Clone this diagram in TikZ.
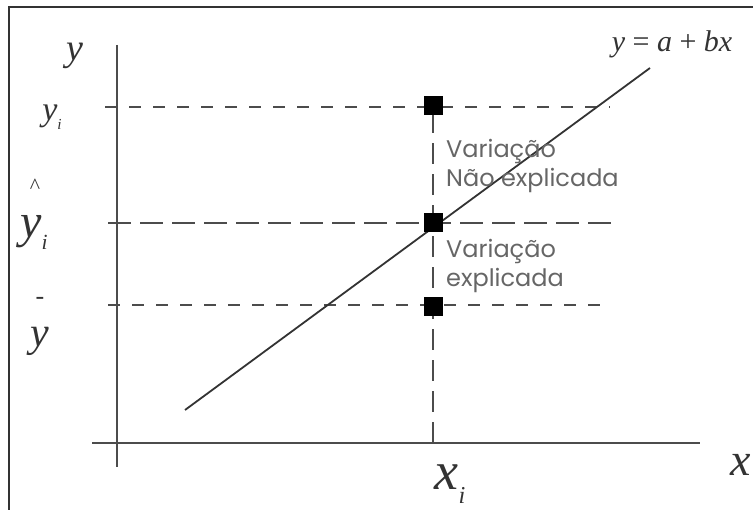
\documentclass[tikz,border=0pt]{standalone}
\usepackage{fontspec}
\newfontfamily\notefont{Poppins}
\newfontfamily\varfont{Liberation Serif}
\newcommand{\sub}[1]{\raisebox{-0.25em}{\scalebox{0.45}{#1}}}

\begin{document}
\begin{tikzpicture}[x=1pt, y=-1pt,
    axis/.style={draw=black!70, line width=2.7pt},
    guide/.style={draw=black!70, line width=2.4pt, dash pattern=on 12pt off 12pt},
    guidelong/.style={draw=black!70, line width=2.4pt, dash pattern=on 23pt off 9pt},
    guidevert/.style={draw=black!70, line width=2.4pt, dash pattern=on 21pt off 10pt},
    sqpoint/.style={rectangle, fill=black, minimum size=19pt, inner sep=0pt},
    lbl/.style={text=black!80, inner sep=0pt, align=center},
    note/.style={text=black!60, inner sep=0pt, align=left, anchor=north west,
                 font=\notefont\fontsize{24}{29}\selectfont}]
    \useasboundingbox (0,0) rectangle (753,510);

    % Frame (only top and left edges are visible)
    \draw[black!80, line width=2.7pt] (9,510) -- (9,7) -- (753,7);

    % Axes
    \coordinate (ytop) at (117,45);
    \coordinate (ybot) at (117,467);
    \coordinate (xleft) at (92,443);
    \coordinate (xright) at (700,443);
    \draw[axis] (ytop) -- (ybot);
    \draw[axis] (xleft) -- (xright);

    % Points on the vertical through x_i
    \coordinate (xi) at (433,443);
    \coordinate (yi) at (433,106);
    \coordinate (yhat) at (433,223);
    \coordinate (ybar) at (433,307);

    % Dashed guides
    \coordinate (yiL) at (105,107);   \coordinate (yiR) at (610,107);
    \coordinate (yhatL) at (108,223); \coordinate (yhatR) at (616,223);
    \coordinate (ybarL) at (108,305); \coordinate (ybarR) at (610,305);
    \draw[guide] (yiL) -- (yiR);
    \draw[guidelong] (yhatL) -- (yhatR);
    \draw[guide] (ybarL) -- (ybarR);
    \draw[guidevert] (xi) -- (yi);

    % Regression line
    \coordinate (regA) at (185,410);
    \coordinate (regB) at (650,68);
    \draw[black!80, line width=1.8pt] (regA) -- (regB);

    % Squares on top
    \node[sqpoint] (sqYi) at (yi) {};
    \node[sqpoint] (sqYhat) at (yhat) {};
    \node[sqpoint] (sqYbar) at (ybar) {};

    % Labels
    \node[lbl, font=\varfont\fontsize{30}{32}\selectfont] (lblEq) at (672,44)
        {\textit{y} = \textit{a} + \textit{bx}};
    \node[lbl, font=\varfont\itshape\fontsize{38}{40}\selectfont] (lblY) at (75,56) {y};
    \node[lbl, font=\varfont\itshape\fontsize{34}{36}\selectfont] (lblYi) at (52,117) {y\sub{i}};
    \node[lbl, font=\varfont\itshape\fontsize{48}{44}\selectfont] (lblYhat) at (34,214)
        {{\fontsize{22}{22}\selectfont\^{}}\\y\sub{i}};
    \node[lbl, font=\varfont\itshape\fontsize{42}{42}\selectfont] (lblYbar) at (40,326)
        {{\upshape\fontsize{26}{26}\selectfont -}\\y};
    \node[lbl, font=\varfont\itshape\fontsize{46}{48}\selectfont] (lblX) at (741,465) {x};
    \node[lbl, font=\varfont\itshape\fontsize{54}{56}\selectfont] (lblXi) at (450,484) {x\sub{i}};

    \node[note] (noteUnexpl) at (446,139) {Variação\\Não explicada};
    \node[note] (noteExpl) at (446,239) {Variação\\explicada};
\end{tikzpicture}
\end{document}
